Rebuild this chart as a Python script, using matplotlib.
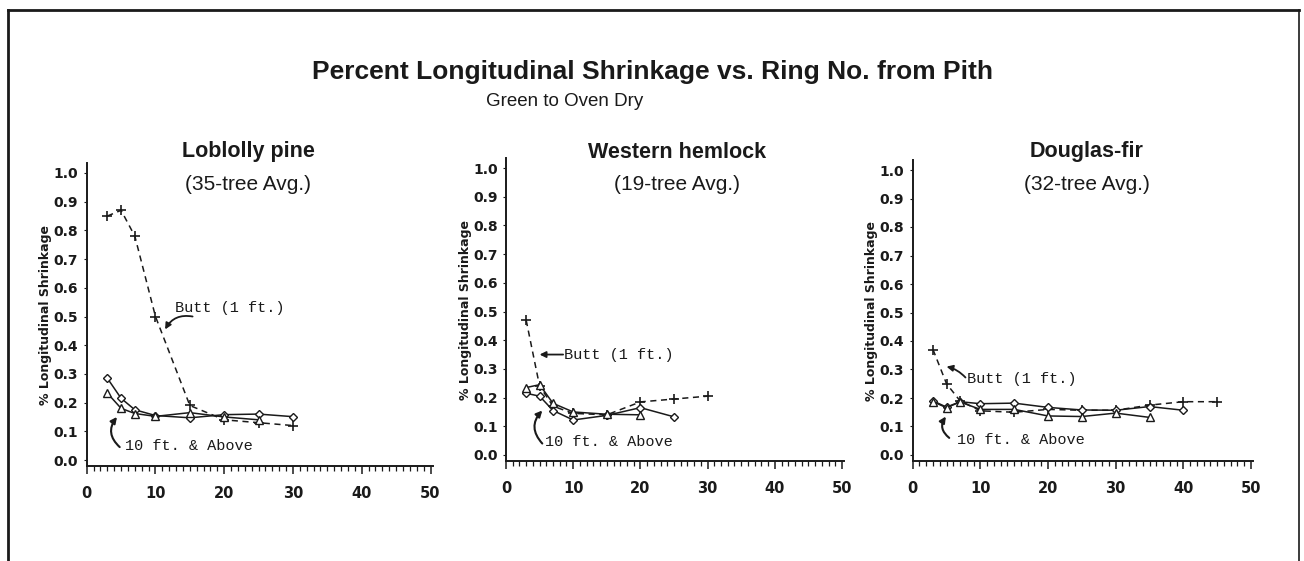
import matplotlib
matplotlib.use("Agg")
import matplotlib.pyplot as plt
from matplotlib.lines import Line2D
from matplotlib.ticker import MultipleLocator, FormatStrFormatter

W, H = 1304, 561

# ---- data ----
titles = ["Loblolly pine", "Western hemlock", "Douglas-fir"]
subtitles = ["(35-tree Avg.)", "(19-tree Avg.)", "(32-tree Avg.)"]

lob_butt_x = [3, 5, 7, 10, 15, 20, 25, 30]
lob_butt_y = [0.85, 0.87, 0.78, 0.50, 0.19, 0.14, 0.13, 0.12]
lob_dia_x = [3, 5, 7, 10, 15, 20, 25, 30]
lob_dia_y = [0.285, 0.215, 0.175, 0.155, 0.147, 0.158, 0.16, 0.151]
lob_tri_x = [3, 5, 7, 10, 15, 20, 25]
lob_tri_y = [0.233, 0.18, 0.162, 0.152, 0.165, 0.15, 0.14]

wh_butt_x = [3, 5, 7, 10, 15, 20, 25, 30]
wh_butt_y = [0.47, 0.24, 0.17, 0.145, 0.14, 0.185, 0.195, 0.205]
wh_dia_x = [3, 5, 7, 10, 15, 20, 25]
wh_dia_y = [0.215, 0.205, 0.155, 0.122, 0.138, 0.165, 0.133]
wh_tri_x = [3, 5, 7, 10, 15, 20]
wh_tri_y = [0.235, 0.245, 0.18, 0.15, 0.142, 0.14]

df_butt_x = [3, 5, 7, 10, 15, 20, 25, 30, 35, 40, 45]
df_butt_y = [0.37, 0.25, 0.19, 0.155, 0.15, 0.16, 0.157, 0.157, 0.175, 0.187, 0.187]
df_dia_x = [3, 5, 7, 10, 15, 20, 25, 30, 35, 40]
df_dia_y = [0.19, 0.168, 0.187, 0.18, 0.182, 0.167, 0.158, 0.157, 0.17, 0.157]
df_tri_x = [3, 5, 7, 10, 15, 20, 25, 30, 35]
df_tri_y = [0.187, 0.166, 0.186, 0.16, 0.16, 0.137, 0.135, 0.147, 0.132]

panels = [
    (lob_butt_x, lob_butt_y, lob_dia_x, lob_dia_y, lob_tri_x, lob_tri_y),
    (wh_butt_x, wh_butt_y, wh_dia_x, wh_dia_y, wh_tri_x, wh_tri_y),
    (df_butt_x, df_butt_y, df_dia_x, df_dia_y, df_tri_x, df_tri_y),
]

# pixel placement of each plot: x of 0, x of 50, y of 0.0, y of 1.0
boxes = [(86.7, 430.5, 460, 173), (506, 842, 455, 168), (912.7, 1251, 455, 170)]
# pixel centre x of the panel titles
title_cx = [248, 677, 1087]

# annotation positions (data coords): text xy, arrow tail, arrow head, curvature
butt_notes = [((12.8, 0.53), (15.4, 0.50), (11.4, 0.455), 0.35),
              ((8.6, 0.35), (8.5, 0.35), (5.0, 0.35), 0.0),
              ((8.0, 0.265), (7.8, 0.272), (5.0, 0.31), 0.15)]
above_notes = [((5.6, 0.05), (4.8, 0.045), (4.4, 0.15), -0.45),
               ((5.8, 0.047), (5.4, 0.04), (5.4, 0.155), -0.45),
               ((6.5, 0.053), (5.4, 0.06), (4.9, 0.135), -0.45)]

INK = "#1a1a1a"
narrow = ["Liberation Sans Narrow", "Liberation Sans", "DejaVu Sans"]
mono = ["Liberation Mono", "DejaVu Sans Mono"]

fig = plt.figure(figsize=(W / 100, H / 100), dpi=100)

# outer frame
fig.add_artist(Line2D([8 / W, 8 / W], [0, 1 - 10 / H], color=INK, lw=2, transform=fig.transFigure))
fig.add_artist(Line2D([8 / W, 1299 / W], [1 - 10 / H, 1 - 10 / H], color=INK, lw=2, transform=fig.transFigure))
fig.add_artist(Line2D([1299 / W, 1299 / W], [0, 1 - 10 / H], color=INK, lw=1.2, transform=fig.transFigure))

fig.text(652 / W, 1 - 72 / H, "Percent Longitudinal Shrinkage vs. Ring No. from Pith",
         ha="center", va="center", fontsize=19, fontweight="bold", family=narrow, color=INK)
fig.text(565 / W, 1 - 101 / H, "Green to Oven Dry", ha="center", va="center",
         fontsize=13.5, family=narrow, color=INK)

ylo, yhi = -0.022, 1.035
xlo, xhi = 0, 50.3

for i, (bx, by, dx, dy, tx, ty) in enumerate(panels):
    x0, x50, y0, y1 = boxes[i]
    ppx = (x50 - x0) / 50.0
    ppy = (y0 - y1) / 1.0
    left = x0 + xlo * ppx
    right = x0 + xhi * ppx
    bottom = y0 - ylo * ppy
    top = y0 - yhi * ppy
    ax = fig.add_axes([left / W, 1 - bottom / H, (right - left) / W, (bottom - top) / H])
    ax.set_xlim(xlo, xhi)
    ax.set_ylim(ylo, yhi)
    ax.patch.set_alpha(0)
    for s in ["top", "right"]:
        ax.spines[s].set_visible(False)
    for s in ["left", "bottom"]:
        ax.spines[s].set_color(INK)
        ax.spines[s].set_linewidth(1.4)

    ax.plot(bx, by, ls=(0, (4, 3)), lw=1.1, color=INK, marker="+", ms=7, mew=1.2)
    ax.plot(dx, dy, ls="-", lw=1.1, color=INK, marker="D", ms=4.5, mfc="white", mew=1.0)
    ax.plot(tx, ty, ls="-", lw=1.1, color=INK, marker="^", ms=5.5, mfc="white", mew=1.0)

    ax.xaxis.set_major_locator(MultipleLocator(10))
    ax.xaxis.set_minor_locator(MultipleLocator(1))
    ax.yaxis.set_major_formatter(FormatStrFormatter("%.1f"))
    ax.set_yticks([v / 10 for v in range(11)])
    ax.tick_params(axis="x", which="major", direction="out", length=6, width=1.1, color=INK,
                   labelsize=10.5, pad=8)
    ax.tick_params(axis="x", which="minor", direction="out", length=3.5, width=0.9, color=INK)
    ax.tick_params(axis="y", which="major", direction="out", length=2, width=0.8, color=INK,
                   labelsize=10, pad=4)
    for lab in ax.get_xticklabels() + ax.get_yticklabels():
        lab.set_fontweight("bold")
        lab.set_color(INK)
    ax.set_ylabel("% Longitudinal Shrinkage", fontsize=9, fontweight="bold", color=INK, labelpad=1)

    cx = (title_cx[i] - left) / (right - left)
    ax.text(cx, (bottom - 152) / (bottom - top), titles[i], transform=ax.transAxes,
            ha="center", va="center", fontsize=15.5, fontweight="bold", family=narrow, color=INK)
    ax.text(cx, (bottom - 185) / (bottom - top), subtitles[i], transform=ax.transAxes,
            ha="center", va="center", fontsize=15, family=narrow, color=INK)

    (txy, tail, head, rad) = butt_notes[i]
    ax.text(txy[0], txy[1], "Butt (1 ft.)", ha="left", va="center", fontsize=11, family=mono, color=INK)
    ax.annotate("", xy=head, xytext=tail,
                arrowprops=dict(arrowstyle="-|>", lw=1.3, color=INK, mutation_scale=9,
                                connectionstyle=f"arc3,rad={rad}", shrinkA=0, shrinkB=0))
    (txy, tail, head, rad) = above_notes[i]
    ax.text(txy[0], txy[1], "10 ft. & Above", ha="left", va="center", fontsize=11, family=mono, color=INK)
    ax.annotate("", xy=head, xytext=tail,
                arrowprops=dict(arrowstyle="-|>", lw=1.5, color=INK, mutation_scale=9,
                                connectionstyle=f"arc3,rad={rad}", shrinkA=0, shrinkB=0))

fig.savefig("out.png", dpi=100, facecolor="white")
